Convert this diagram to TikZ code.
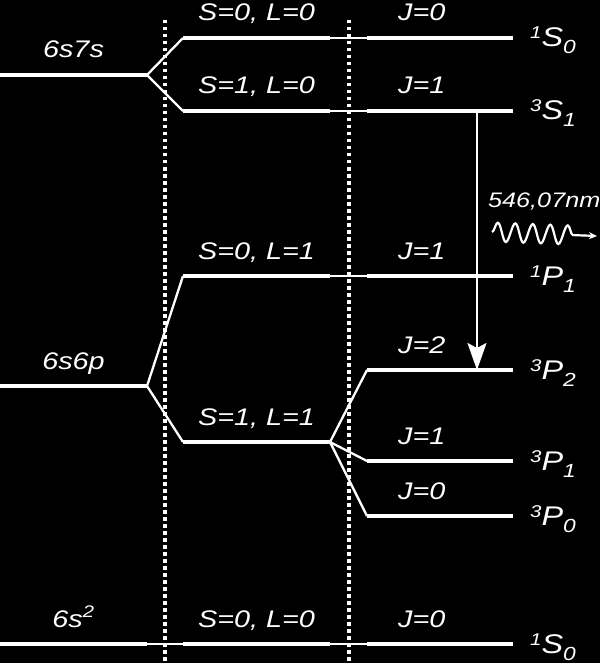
\documentclass[tikz,border=0pt]{standalone}
\usepackage{fontspec}
\setmainfont{Liberation Sans}[FakeStretch=1.2]
\usetikzlibrary{arrows.meta,decorations.pathmorphing}
\newcommand{\term}[3]{{\fontsize{17}{17}\selectfont\raisebox{8pt}{#1}}{\fontsize{27}{27}\selectfont #2}{\fontsize{19}{19}\selectfont\raisebox{-7pt}{#3}}}
\tikzset{
  lvl/.style={white,line width=3.5pt},
  link/.style={white,line width=1.6pt},
  fork/.style={white,line width=2.3pt,line join=miter},
  lab/.style={text=white,font=\itshape\fontsize{24}{24}\selectfont,inner sep=0pt,anchor=base},
}

\begin{document}
\begin{tikzpicture}[x=1pt,y=-1pt,>={Stealth[length=27pt,width=19pt,inset=5pt]}]
\fill[black] (0,0) rectangle (600,663);
\useasboundingbox (0,0) rectangle (600,663);
% configurations
\foreach \n/\y/\t in {7s/75/6s7s,6p/386/6s6p,gs/644/6s\textsuperscript{2}}
  \draw[lvl] (0,\y) -- node[lab,yshift=17pt] (C\n) {\t} (147,\y) coordinate (c\n);
% LS terms
\foreach \n/\y/\t in {a/38/{S=0, L=0},b/111/{S=1, L=0},c/276/{S=0, L=1},d/442/{S=1, L=1},e/644/{S=0, L=0}}
  \draw[lvl] (183,\y) coordinate (l\n) -- node[lab,yshift=17pt] (L\n) {\t} (330,\y) coordinate (r\n);
% J levels
\foreach \n/\y/\j/\t in {a/38/0/\term{1}{S}{0},b/111/1/\term{3}{S}{1},c/276/1/\term{1}{P}{1},d/370/2/\term{3}{P}{2},e/461/1/\term{3}{P}{1},f/516/0/\term{3}{P}{0},g/644/0/\term{1}{S}{0}}{
  \draw[lvl] (367,\y) coordinate (j\n) -- (513,\y) coordinate (k\n);
  \node[lab,anchor=base west] (J\n) at (398,\y-17) {J=\j};
  \node[lab,anchor=base west] (T\n) at (530,\y+9) {\t};
}
% splittings
\draw[fork] (la) -- (c7s) -- (lb);
\draw[fork] (lc) -- (c6p) -- (ld);
\draw[link] (cgs) -- (le);
\foreach \a/\b in {ra/ja,rb/jb,rc/jc,re/jg} \draw[link] (\a) -- (\b);
\draw[fork] (jd) -- (rd) -- (je) (rd) -- (jf);
% separators
\foreach \x in {164.5,349}
  \draw[white,line width=4pt,dash pattern=on 3.5pt off 3.5pt] (\x,20) -- (\x,663);
% transition
\coordinate (up) at (477,111);
\coordinate (dn) at (477,370);
\draw[->,white,line width=2.6pt] (up) -- (dn);
\coordinate (w0) at (492,232);
\coordinate (w1) at (597,236);
\draw[white,line width=2.2pt,-{Stealth[length=8pt,width=7pt]},decorate,decoration={snake,amplitude=9.5pt,segment length=17.5pt,post length=16pt}] (w0) -- (w1);
\node[lab,font=\itshape\fontsize{21}{21}\selectfont,anchor=base west] (lam) at (488,207) {546,07nm};
\end{tikzpicture}
\end{document}
